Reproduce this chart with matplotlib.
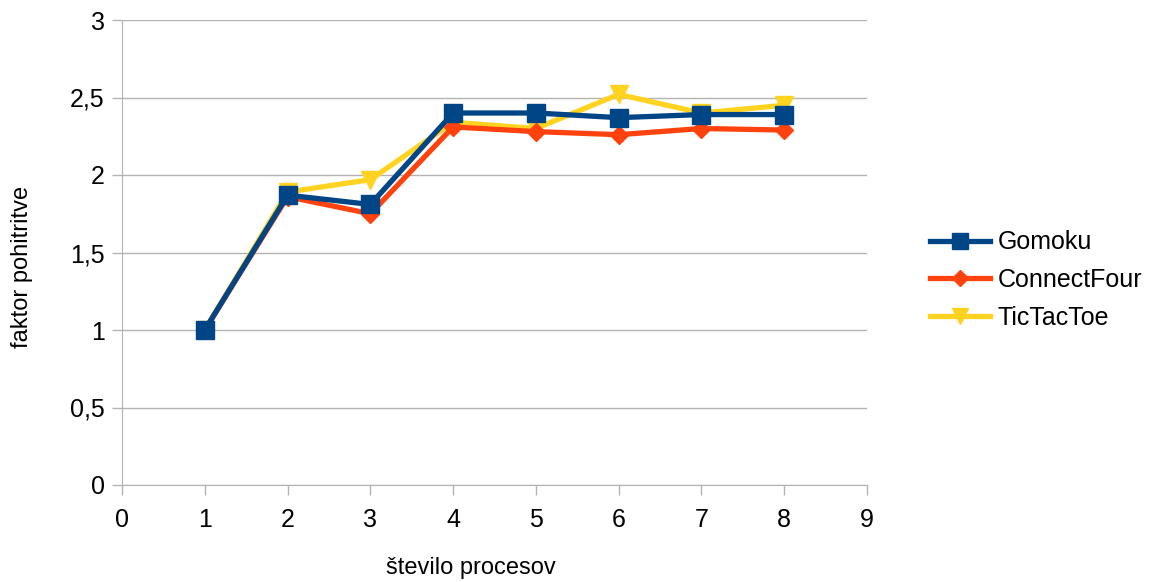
import matplotlib.pyplot as plt

plt.rcParams['font.family'] = ['Liberation Sans', 'DejaVu Sans']

procs = [1, 2, 3, 4, 5, 6, 7, 8]
gomoku = [1.0, 1.87, 1.81, 2.40, 2.40, 2.37, 2.39, 2.39]
connect_four = [1.0, 1.86, 1.75, 2.31, 2.28, 2.26, 2.30, 2.29]
tictactoe = [1.0, 1.89, 1.97, 2.34, 2.30, 2.52, 2.40, 2.45]

fig = plt.figure(figsize=(11.57, 5.82), dpi=100)
ax = fig.add_axes([122 / 1157, 1 - 485 / 582, (867 - 122) / 1157, (485 - 20) / 582])

ax.plot(procs, tictactoe, color='#ffd320', lw=3.8, marker='v', ms=13, label='TicTacToe', zorder=3)
ax.plot(procs, connect_four, color='#ff420e', lw=3.8, marker='D', ms=9, label='ConnectFour', zorder=4)
ax.plot(procs, gomoku, color='#004586', lw=3.8, marker='s', ms=13, label='Gomoku', zorder=5)

ax.set_xlim(0, 9)
ax.set_ylim(0, 3)
ax.set_xticks(range(0, 10))
ax.set_yticks([0, 0.5, 1, 1.5, 2, 2.5, 3])
ax.set_yticklabels(['0', '0,5', '1', '1,5', '2', '2,5', '3'])
ax.tick_params(labelsize=18, color='#b3b3b3', length=7.5, width=1)
ax.tick_params(axis='x', pad=9)
ax.tick_params(axis='y', pad=5)
ax.yaxis.grid(True, color='#b3b3b3', lw=1)
ax.set_axisbelow(True)
for s in ['top', 'right']:
    ax.spines[s].set_visible(False)
for s in ['left', 'bottom']:
    ax.spines[s].set_color('#b3b3b3')

ax.set_xlabel('število procesov', fontsize=17)
ax.set_ylabel('faktor pohitritve', fontsize=17)
ax.xaxis.set_label_coords(0.468, -0.155)
ax.yaxis.set_label_coords(-0.12, 0.47)

handles, labels = ax.get_legend_handles_labels()
fig.legend(handles[::-1], labels[::-1], loc='center left', bbox_to_anchor=(930 / 1157, 1 - 280 / 582),
           frameon=False, fontsize=18, handlelength=2.4, labelspacing=0.55, handletextpad=0.3,
           borderpad=0, borderaxespad=0, markerscale=0.9)

fig.savefig('out.png', dpi=100)
